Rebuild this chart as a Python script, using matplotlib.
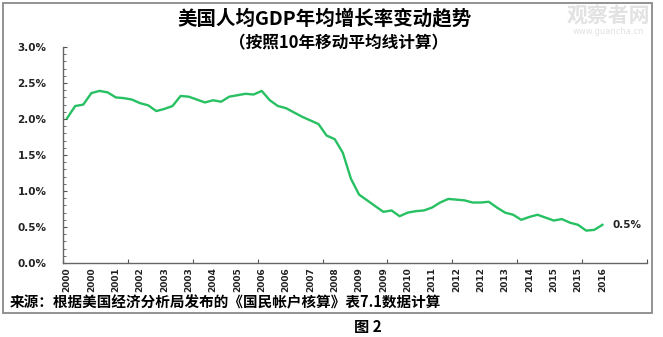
import matplotlib
matplotlib.use('Agg')
import matplotlib.pyplot as plt
import matplotlib.ticker as ticker
from matplotlib.patches import Rectangle

plt.rcParams['font.family'] = ['Noto Sans CJK SC', 'DejaVu Sans']

# quarterly 10-year moving average of US per-capita GDP growth, %, 2000Q1..2016Q3
growth = [2.01, 2.18, 2.20, 2.36, 2.39, 2.37, 2.30, 2.29, 2.27, 2.22,
          2.19, 2.11, 2.14, 2.18, 2.32, 2.31, 2.27, 2.23, 2.26, 2.24,
          2.31, 2.33, 2.35, 2.34, 2.39, 2.26, 2.18, 2.15, 2.09, 2.03,
          1.98, 1.93, 1.77, 1.72, 1.53, 1.17, 0.95, 0.87, 0.79, 0.71,
          0.73, 0.65, 0.70, 0.72, 0.73, 0.77, 0.84, 0.89, 0.88, 0.87,
          0.84, 0.84, 0.85, 0.77, 0.70, 0.67, 0.60, 0.64, 0.67, 0.63,
          0.59, 0.61, 0.56, 0.53, 0.45, 0.46, 0.53]
n_categories = 72   # axis runs 2000Q1..2017Q4
label_step = 3
tick_step = 8
year_labels = ['2000', '2000', '2001', '2002', '2003', '2003', '2004', '2005',
               '2006', '2006', '2007', '2008', '2009', '2009', '2010', '2011',
               '2012', '2012', '2013', '2014', '2015', '2015', '2016']
y_ticks = [0.0, 0.5, 1.0, 1.5, 2.0, 2.5, 3.0]

title = '美国人均GDP年均增长率变动趋势'
subtitle = '（按照10年移动平均线计算）'
source = '来源：根据美国经济分析局发布的《国民帐户核算》表7.1数据计算'
caption = '图 2'

fig = plt.figure(figsize=(6.63, 3.37), dpi=100)
ax = fig.add_axes([63/663, 1-263/337, 584/663, 216/337])

x = list(range(len(growth)))
ax.plot(x, growth, color='#27c062', lw=1.7, solid_joinstyle='round')
ax.annotate('%.1f%%' % growth[-1], (x[-1], growth[-1]), xytext=(7, 0),
            textcoords='offset points', ha='left', va='center',
            fontsize=7.5, fontweight='bold', color='#222222', family='DejaVu Sans')

ax.set_xlim(-0.5, n_categories - 0.5)
ax.set_ylim(0, 3.0)

# tick marks on category boundaries, labels on category centres
ax.set_xticks([-0.5 + k for k in range(0, n_categories + 1, tick_step)])
ax.set_xticklabels([])
ax.set_xticks(list(range(0, len(year_labels) * label_step, label_step)), minor=True)
ax.set_xticklabels(year_labels, minor=True, rotation=90, fontsize=6.5,
                   fontweight='bold', family='DejaVu Sans', color='#222222')
ax.tick_params(axis='x', which='major', direction='in', length=3, color='#555555')
ax.tick_params(axis='x', which='minor', length=0, pad=3)

ax.set_yticks(y_ticks)
ax.yaxis.set_major_formatter(ticker.FuncFormatter(lambda v, p: '%.1f%%' % v))
ax.yaxis.set_minor_locator(ticker.MultipleLocator(0.1))
ax.tick_params(axis='y', which='major', direction='in', length=3, color='#555555', pad=12)
ax.tick_params(axis='y', which='minor', direction='in', length=2, color='#555555')
for lab in ax.get_yticklabels():
    lab.set_fontsize(7.5)
    lab.set_fontweight('bold')
    lab.set_family('DejaVu Sans')
    lab.set_color('#222222')

for s in ['top', 'right']:
    ax.spines[s].set_visible(False)
for s in ['left', 'bottom']:
    ax.spines[s].set_color('#666666')
    ax.spines[s].set_linewidth(1.0)

fig.text(0.49, 0.945, title, ha='center', va='center', fontsize=14, fontweight='bold')
fig.text(0.51, 0.87, subtitle, ha='center', va='center', fontsize=12, fontweight='bold')
fig.text(10/663, 1-302/337, source, ha='left', va='center', fontsize=10.5, fontweight='bold')
fig.text(368/663, 1-327/337, caption, ha='center', va='center', fontsize=11, fontweight='bold')

# watermark
fig.text(608/663, 1-16/337, '观察者网', ha='center', va='center', fontsize=15,
         color='#e2e2e2', fontweight='bold')
fig.text(608/663, 1-32/337, 'www.guancha.cn', ha='center', va='center', fontsize=6,
         color='#e2e2e2', family='DejaVu Sans')

# chart frame
fig.patches.append(Rectangle((3/663, 1-313/337), 649/663, 310/337, transform=fig.transFigure,
                             fill=False, edgecolor='#8a8a8a', lw=1.3))

fig.savefig('out.png', dpi=100)
